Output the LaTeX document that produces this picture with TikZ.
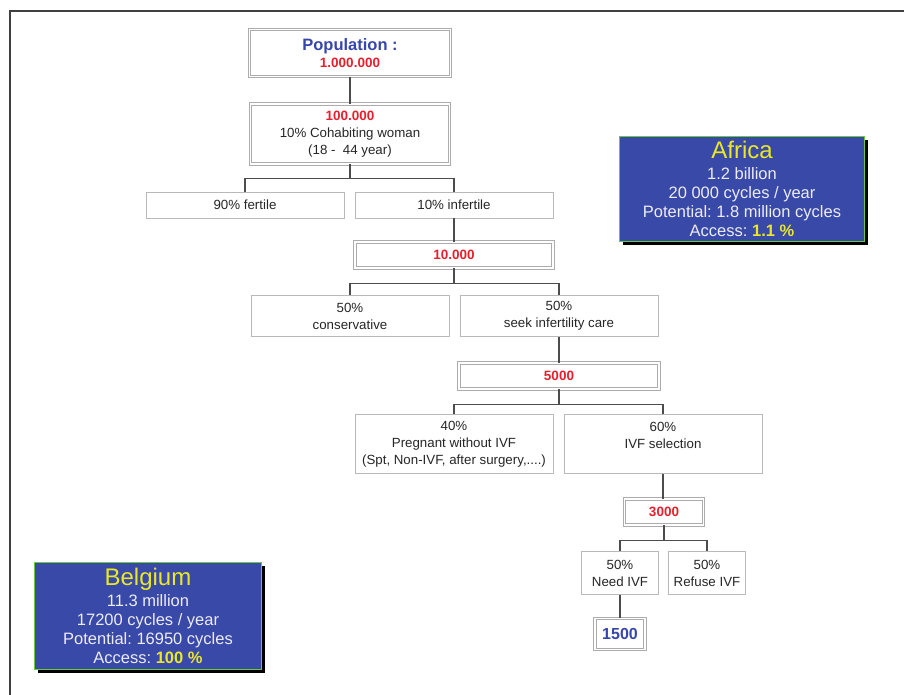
\documentclass[tikz,border=0pt]{standalone}
\usepackage{fontspec}
\setmainfont{Liberation Sans}
\usetikzlibrary{positioning,shadows}
\definecolor{popblue}{RGB}{55,70,170}
\definecolor{numred}{RGB}{232,30,45}
\definecolor{regionblue}{RGB}{57,73,167}
\definecolor{regiongreen}{RGB}{110,200,60}
\definecolor{titleyellow}{RGB}{232,232,40}
\definecolor{paleText}{RGB}{236,236,245}
\newcommand{\redcount}[1]{\textcolor{numred}{\bfseries\fontsize{13.5}{17}\selectfont #1}}
\frenchspacing
\begin{document}
\begin{tikzpicture}[x=1pt, y=-1pt,
  plain box/.style={draw=gray!55, line width=0.8pt, fill=white, align=center, inner sep=0pt, minimum width=198pt, font=\fontsize{13.3}{17}\selectfont, text=black!85},
  count box/.style={draw=gray!65, double=white, double distance=1.5pt, line width=0.9pt, align=center, inner sep=0pt, font=\fontsize{13.3}{17}\selectfont, text=black!85},
  region box/.style={draw=regiongreen, line width=1pt, fill=regionblue, text=paleText, align=center, inner sep=0pt, font=\fontsize{16.5}{19}\selectfont, drop shadow={shadow xshift=3.5pt, shadow yshift=-3.5pt, fill=black, opacity=1}},
  link/.style={draw=black!70, line width=1.2pt}]
    \useasboundingbox (0,0) rectangle (904,695);
    \draw[black!75, line width=1.5pt] (10,695) -- (10,11) -- (904,11);

    \node[count box, minimum width=201pt, minimum height=47pt] (pop) at (350,53) {\textcolor{popblue}{\bfseries\fontsize{16.5}{19}\selectfont Population :}\\\redcount{1.000.000}};
    \node[count box, minimum width=199pt, minimum height=60pt] (women) at (350,134) {\redcount{100.000}\\10\% Cohabiting woman\\(18 -\ \ 44 year)};
    \node[plain box, minimum height=26pt] (fertile) at (245,205) {90\% fertile};
    \node[plain box, minimum height=26pt] (infertile) at (454,205) {10\% infertile};
    \node[count box, minimum width=198pt, minimum height=26pt] (tenk) at (454,255) {\redcount{10.000}};
    \node[plain box, minimum height=41pt] (conserv) at (350,316) {50\%\\conservative};
    \node[plain box, minimum height=41pt] (seek) at (559,316) {50\%\\seek infertility care};
    \node[count box, minimum width=200pt, minimum height=26pt] (fivek) at (559,376) {\redcount{5000}};
    \node[plain box, minimum height=59pt] (pregnant) at (454,444) {40\%\\Pregnant without IVF\\(Spt, Non-IVF, after surgery,....)};
    \node[plain box, minimum height=59pt] (ivf) at (663,444) {60\%\\IVF selection\\~};
    \node[count box, minimum width=79pt, minimum height=26pt] (threek) at (664,512) {\redcount{3000}};
    \node[plain box, minimum width=77pt, minimum height=43pt] (need) at (620,573) {50\%\\Need IVF};
    \node[plain box, minimum width=77pt, minimum height=43pt] (refuse) at (707,573) {50\%\\Refuse IVF};
    \node[count box, minimum width=50pt, minimum height=31pt] (final) at (620,634) {\textcolor{popblue}{\bfseries\fontsize{16}{19}\selectfont 1500}};

    \node[region box, minimum width=245pt, minimum height=104pt] (africa) at (742,189) {{\color{titleyellow}\fontsize{24}{24}\selectfont Africa}\\[2pt]1.2 billion\\20 000 cycles / year\\Potential: 1.8 million cycles\\Access: \textcolor{titleyellow}{\bfseries 1.1 \%}};
    \node[region box, minimum width=227pt, minimum height=107pt] (belgium) at (148,616) {{\color{titleyellow}\fontsize{24}{24}\selectfont Belgium}\\[2pt]11.3 million\\17200 cycles / year\\Potential: 16950 cycles\\Access: \textcolor{titleyellow}{\bfseries 100 \%}};

    % tree connectors
    \draw[link] (pop) -- (women);
    \path (women.south) ++(0,14) coordinate (split1);
    \draw[link] (women) -- (split1) (fertile.north) |- (split1) -| (infertile.north);
    \draw[link] (infertile) -- (tenk);
    \path (tenk.south) ++(0,15) coordinate (split2);
    \draw[link] (tenk) -- (split2) (conserv.north) |- (split2) -| (seek.north);
    \draw[link] (seek) -- (fivek);
    \path (fivek.south) ++(0,15) coordinate (split3);
    \draw[link] (fivek) -- (split3) (pregnant.north) |- (split3) -| (ivf.north);
    \draw[link] (ivf.south) -- (ivf.south |- threek.north);
    \path (threek.south) ++(0,15) coordinate (split4);
    \draw[link] (threek) -- (split4) (need.north) |- (split4) -| (refuse.north);
    \draw[link] (need) -- (final);
\end{tikzpicture}
\end{document}
